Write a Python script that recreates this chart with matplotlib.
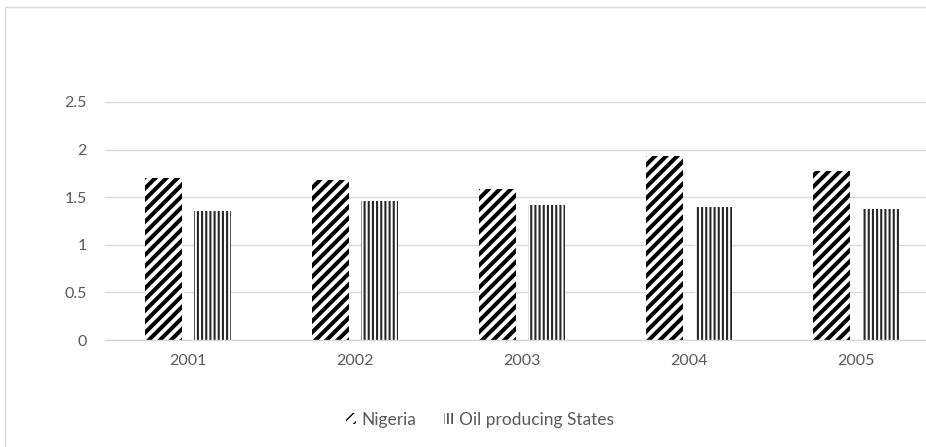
import matplotlib
matplotlib.use("Agg")
import matplotlib.pyplot as plt
from matplotlib.patches import Rectangle, Patch
import numpy as np

years = ["2001", "2002", "2003", "2004", "2005"]
nigeria = [1.70, 1.68, 1.59, 1.93, 1.77]
oil_states = [1.35, 1.46, 1.42, 1.40, 1.38]
yticks = [0, 0.5, 1, 1.5, 2, 2.5]
ytick_labels = ["0", "0.5", "1", "1.5", "2", "2.5"]

plt.rcParams['font.family'] = ['Lato', 'DejaVu Sans']

W, H = 926, 447
fig = plt.figure(figsize=(W / 100, H / 100), dpi=100)
fig.patch.set_facecolor("white")

# chart area border (top and left visible)
fig.add_artist(Rectangle((5 / W, -0.05), 1.2, 1 - 6.5 / H + 0.05,
                         transform=fig.transFigure, fill=False,
                         edgecolor="#d9d9d9", linewidth=1.0))

left = 104.5 / W
bottom = (H - 340) / H
height = (340 - 102) / H
ax = fig.add_axes([left, bottom, 1 - left, height])

NIG_HATCH, NIG_LW = "///", 2.9
OIL_HATCH, OIL_LW = "||||", 1.5

x = np.arange(len(years))
bw = 0.222
off = 0.144
b1 = ax.bar(x - off, nigeria, bw, facecolor="white", edgecolor="black",
            linewidth=0, hatch=NIG_HATCH)
b2 = ax.bar(x + off, oil_states, bw, facecolor="white", edgecolor="#262626",
            linewidth=0, hatch=OIL_HATCH)
for p in b1:
    if hasattr(p, "set_hatch_linewidth"):
        p.set_hatch_linewidth(NIG_LW)
for p in b2:
    if hasattr(p, "set_hatch_linewidth"):
        p.set_hatch_linewidth(OIL_LW)

ax.set_xlim(-0.5, -0.5 + (W - 104.5) / 167)
ax.set_ylim(0, 2.5)
ax.set_yticks(yticks)
ax.set_yticklabels(ytick_labels)
ax.set_xticks(x)
ax.set_xticklabels(years)
ax.yaxis.grid(True, color="#d9d9d9", linewidth=1.0)
ax.set_axisbelow(True)
for s in ["top", "right", "left"]:
    ax.spines[s].set_visible(False)
ax.spines["bottom"].set_color("#d9d9d9")
ax.spines["bottom"].set_linewidth(1.0)
ax.tick_params(axis="both", length=0, labelsize=11.5, colors="#595959")
ax.tick_params(axis="y", pad=13)
ax.tick_params(axis="x", pad=10)

h1 = Patch(facecolor="white", edgecolor="black", hatch=NIG_HATCH, linewidth=0)
h2 = Patch(facecolor="white", edgecolor="#262626", hatch=OIL_HATCH, linewidth=0)
if hasattr(h1, "set_hatch_linewidth"):
    h1.set_hatch_linewidth(NIG_LW)
    h2.set_hatch_linewidth(OIL_LW)
leg = fig.legend([h1, h2], ["Nigeria", "Oil producing States"],
                 loc="center", bbox_to_anchor=(480 / W, 1 - 420 / H),
                 ncol=2, frameon=False, fontsize=12.5, handlelength=0.6,
                 handleheight=0.6, handletextpad=0.3, columnspacing=1.6)
for t in leg.get_texts():
    t.set_color("#595959")

fig.savefig("out.png", dpi=100, facecolor="white")
